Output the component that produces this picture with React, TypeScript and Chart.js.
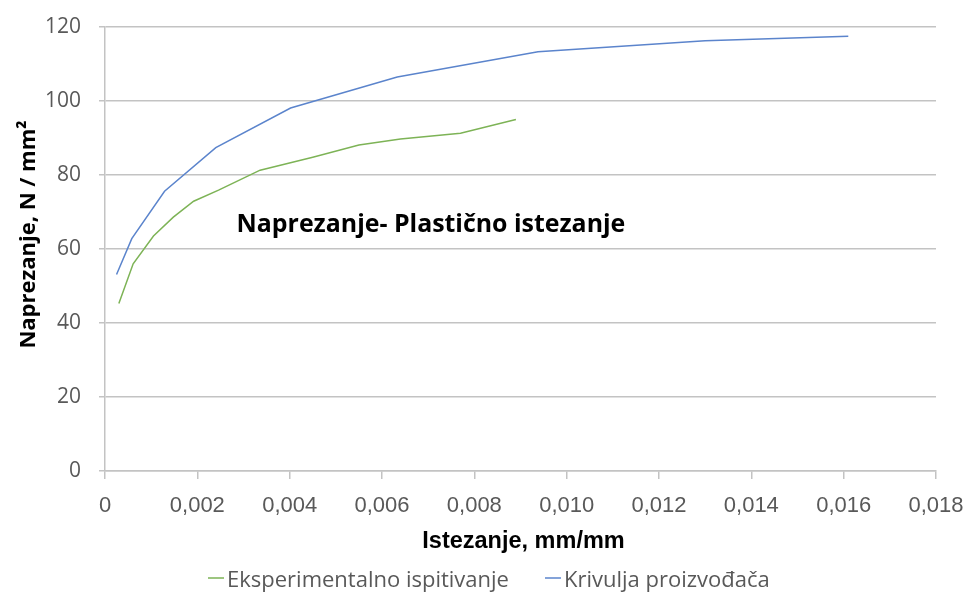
import React, { useEffect, useRef } from "react";
import { Chart, registerables } from "chart.js";

Chart.register(...registerables);

const chartTitle = "Naprezanje- Plastično istezanje";
const xAxisTitle = "Istezanje, mm/mm";
const yAxisTitle = "Naprezanje, N / mm²";
const seriesNames = ["Eksperimentalno ispitivanje", "Krivulja proizvođača"];
const seriesColors = ["#7db356", "#5b84cc"];

const expX = [0.0003, 0.00061, 0.00105, 0.00148, 0.00192, 0.00246, 0.00336, 0.0045, 0.0055, 0.0064, 0.0077, 0.0089];
const expY = [45.3, 56.0, 63.5, 68.6, 72.9, 75.9, 81.3, 84.8, 88.1, 89.7, 91.3, 95.0];

const mfgX = [0.00025, 0.00058, 0.00129, 0.0024, 0.00402, 0.00633, 0.00938, 0.0130, 0.0161];
const mfgY = [53.1, 62.8, 75.6, 87.4, 98.1, 106.5, 113.3, 116.3, 117.5];

const xMin = 0, xMax = 0.018, xStep = 0.002;
const yMin = 0, yMax = 120, yStep = 20;

const TEXT_DARK = "#000000";
const TEXT_GRAY = "#595959";
const GRID = "#c3c3c3";

const decorations = {
  id: "decorations",
  afterDraw(chart: any) {
    const { ctx, scales, chartArea } = chart;
    ctx.save();
    // inline chart title
    ctx.font = "bold 24.9px 'Open Sans', sans-serif";
    ctx.fillStyle = TEXT_DARK;
    ctx.textAlign = "left";
    ctx.textBaseline = "alphabetic";
    ctx.fillText(chartTitle, scales.x.getPixelForValue(0.00285), scales.y.getPixelForValue(64.5));

    // y axis title
    ctx.save();
    ctx.translate(27, 226.5);
    ctx.rotate(-Math.PI / 2);
    ctx.font = "bold 22px 'Open Sans', sans-serif";
    ctx.textAlign = "center";
    ctx.textBaseline = "alphabetic";
    ctx.fillText(yAxisTitle, 0, 0);
    ctx.restore();

    // x axis title
    ctx.font = "bold 23.5px 'Liberation Sans', Arial, sans-serif";
    ctx.textAlign = "center";
    ctx.textBaseline = "alphabetic";
    ctx.fillText(xAxisTitle, (chartArea.left + chartArea.right) / 2 + 3, 540);

    // legend
    ctx.font = "22px 'Open Sans', sans-serif";
    ctx.textAlign = "left";
    ctx.textBaseline = "alphabetic";
    let x = 200;
    const lineY = 570;
    const baseY = 578.5;
    seriesNames.forEach((name, i) => {
      ctx.strokeStyle = seriesColors[i];
      ctx.lineWidth = 1.5;
      ctx.beginPath();
      ctx.moveTo(x, lineY);
      ctx.lineTo(x + 16, lineY);
      ctx.stroke();
      ctx.fillStyle = TEXT_GRAY;
      ctx.fillText(name, x + 19, baseY);
      x += 19 + ctx.measureText(name).width + 36;
    });
    ctx.restore();
  },
};

export default function App() {
  const ref = useRef<HTMLCanvasElement | null>(null);
  useEffect(() => {
    if (!ref.current) return;
    const chart = new Chart(ref.current, {
      type: "line",
      data: {
        datasets: [
          {
            label: seriesNames[0],
            data: expX.map((x, i) => ({ x, y: expY[i] })),
            borderColor: seriesColors[0],
            backgroundColor: seriesColors[0],
            borderWidth: 1.5,
            pointRadius: 0,
            tension: 0,
          },
          {
            label: seriesNames[1],
            data: mfgX.map((x, i) => ({ x, y: mfgY[i] })),
            borderColor: seriesColors[1],
            backgroundColor: seriesColors[1],
            borderWidth: 1.5,
            pointRadius: 0,
            tension: 0,
          },
        ],
      },
      options: {
        animation: false,
        responsive: true,
        maintainAspectRatio: false,
        layout: { padding: { left: 0, right: 32, top: 19, bottom: 0 } },
        scales: {
          x: {
            type: "linear",
            min: xMin,
            max: xMax,
            afterFit: (s: any) => {
              s.height = 121;
              s.paddingLeft = 0;
              s.paddingRight = 0;
            },
            ticks: {
              stepSize: xStep,
              color: TEXT_GRAY,
              font: { family: "'Liberation Sans', Arial, sans-serif", size: 22 },
              padding: 14,
              callback: (v: any) => (Number(v) === 0 ? "0" : Number(v).toFixed(3).replace(".", ",")),
              maxRotation: 0,
              autoSkip: false,
            },
            grid: { drawOnChartArea: false, drawTicks: true, tickLength: 8, color: GRID, lineWidth: 1.5 },
            border: { color: GRID, width: 1.5 },
          },
          y: {
            min: yMin,
            max: yMax,
            afterFit: (s: any) => {
              s.width = 97;
              s.paddingTop = 0;
              s.paddingBottom = 0;
            },
            ticks: {
              stepSize: yStep,
              color: TEXT_GRAY,
              font: { family: "'Open Sans', sans-serif", size: 21 },
              padding: 18,
            },
            grid: { color: GRID, lineWidth: 1.5, tickLength: 6 },
            border: { color: GRID, width: 1.5 },
          },
        },
        plugins: {
          legend: { display: false },
          title: { display: false },
          tooltip: { enabled: false },
        },
      },
      plugins: [decorations],
    } as any);
    return () => chart.destroy();
  }, []);
  return (
    <div style={{ width: 960, height: 584, position: "relative" }}>
      <canvas ref={ref} />
    </div>
  );
}
